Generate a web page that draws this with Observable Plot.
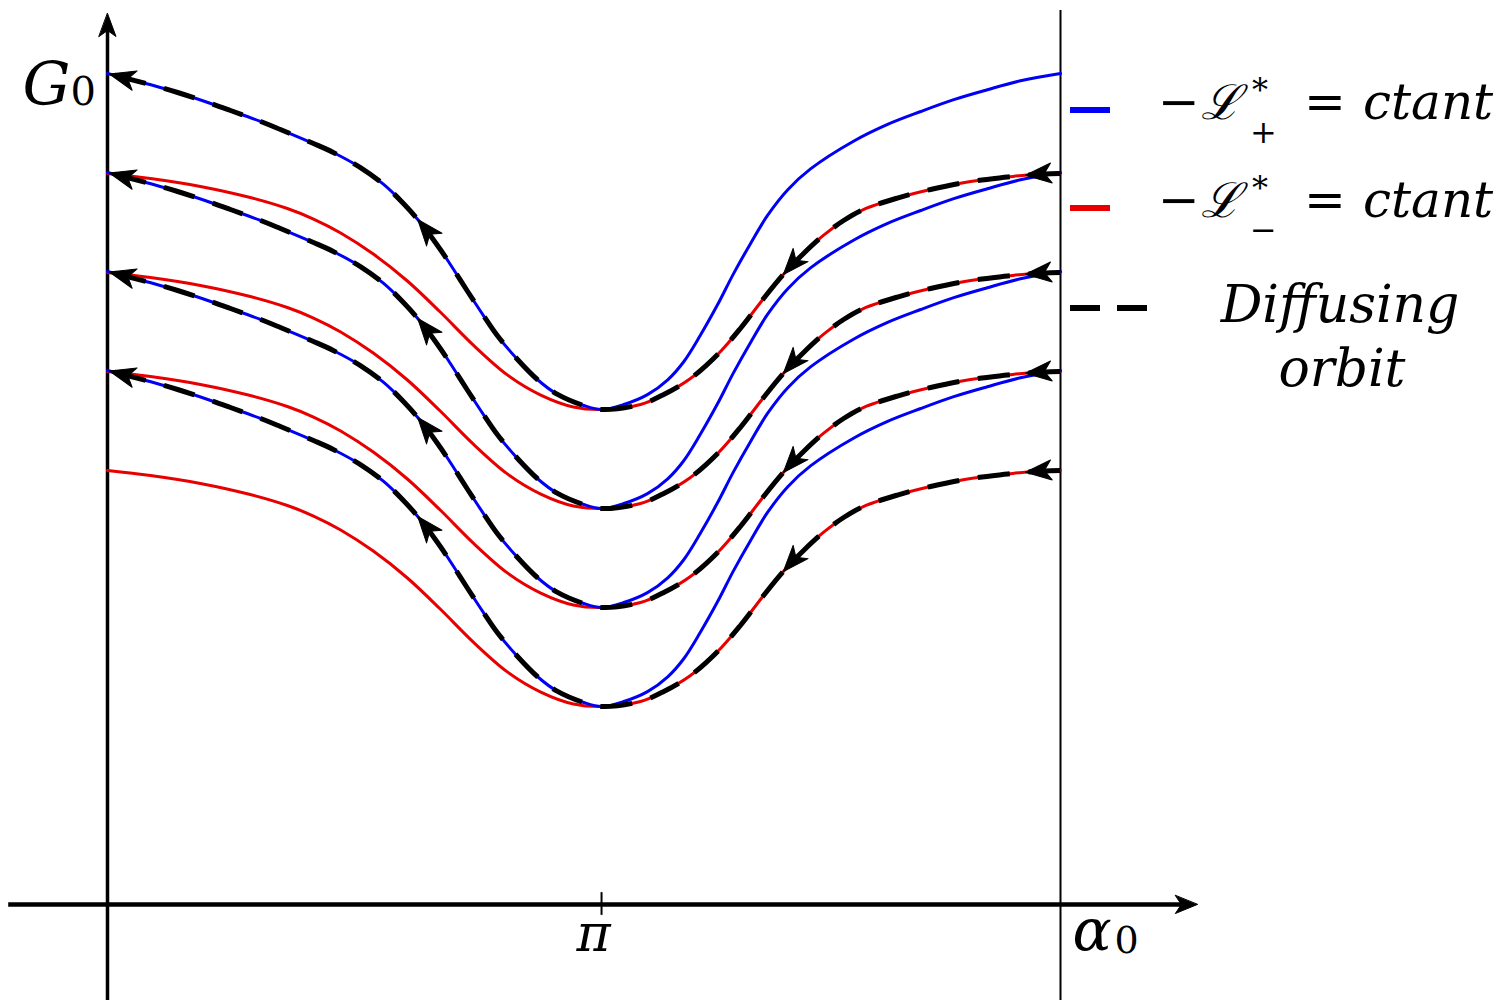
<!DOCTYPE html>
<html>
<head>
<meta charset="utf-8">
<script src="https://cdn.jsdelivr.net/npm/d3@7"></script>
<script src="https://cdn.jsdelivr.net/npm/@observablehq/plot@0.6"></script>
<style>
  body { margin: 0; background: #fff; }
  #wrap { position: relative; width: 1510px; height: 1000px; }
  #legend { position: absolute; left: 1060px; top: 60px; }
</style>
</head>
<body>
<div id="wrap"></div>
<script>
const PI = Math.PI;

// Level-curve profile of  -L*_+ = ctant  (blue): abscissa in units of π, rise above the valley floor (G0 units)
const blueAlpha = [0, 0.093, 0.142, 0.209, 0.249, 0.310, 0.350, 0.417, 0.457, 0.512, 0.559, 0.599, 0.628, 0.668, 0.694, 0.729, 0.761, 0.789, 0.830, 0.870, 0.911, 0.964, 1.000,
                   1.045, 1.093, 1.134, 1.166, 1.200, 1.235, 1.267, 1.302, 1.336, 1.377, 1.423, 1.510, 1.579, 1.646, 1.713, 1.781, 1.848, 1.929];
const blueRise  = [3.394, 3.273, 3.202, 3.091, 3.020, 2.909, 2.828, 2.687, 2.596, 2.444, 2.273, 2.081, 1.919, 1.657, 1.465, 1.192, 0.949, 0.747, 0.505, 0.303, 0.152, 0.040, 0,
                   0.050, 0.150, 0.300, 0.480, 0.750, 1.060, 1.370, 1.680, 1.960, 2.220, 2.430, 2.710, 2.880, 3.010, 3.130, 3.230, 3.320, 3.394];

// Level-curve profile of  -L*_- = ctant  (red)
const redAlpha = [0, 0.087, 0.188, 0.289, 0.364, 0.417, 0.472, 0.538, 0.607, 0.674, 0.741, 0.810, 0.877, 0.943, 1.000,
                  1.079, 1.126, 1.180, 1.235, 1.281, 1.328, 1.368, 1.409, 1.449, 1.490, 1.530, 1.599, 1.666, 1.747, 1.822, 1.862, 1.929];
const redRise  = [2.384, 2.333, 2.253, 2.141, 2.030, 1.924, 1.783, 1.570, 1.298, 0.982, 0.648, 0.347, 0.146, 0.026, 0,
                  0.051, 0.152, 0.313, 0.556, 0.818, 1.121, 1.364, 1.576, 1.758, 1.909, 2.020, 2.136, 2.222, 2.303, 2.348, 2.369, 2.384];

// Valley floors (G0 at α0 = π) of the plotted level curves
const valleyLevels = [5, 4, 3, 2];

// Right boundary line of the strip (units of π)
const rightEdge = 1.929;

// Axis extents: α0 axis (units of π), G0 axis
const xAxisSpan = [-0.2, 2.206];
const yAxisSpan = [-1, 9];
const yTop = 9;

// Tick on the α0 axis
const tickValues = [1];
const tickLabels = ["π"];

// Where arrowheads sit along the diffusing orbit (units of π)
const arrowOnBlue = [0.004, 0.628];
const arrowOnRed = [1.858, 1.368];

// ---------------------------------------------------------------
const W = 1510, H = 1000;
const mL = 107, mR = 450, mT = 13, mB = 96;
const kx = (W - mL - mR) / rightEdge; // px per unit of α/π
const ky = (H - mT - mB) / yTop;      // px per unit of G0

function interp(xs, ys, a) {
  if (a <= xs[0]) return ys[0];
  for (let i = 1; i < xs.length; i++) {
    if (a <= xs[i]) {
      const t = (a - xs[i - 1]) / (xs[i] - xs[i - 1]);
      return ys[i - 1] + t * (ys[i] - ys[i - 1]);
    }
  }
  return ys[ys.length - 1];
}
function slope(xs, ys, a) {
  const h = 0.012;
  const a0 = Math.max(xs[0], a - h), a1 = Math.min(xs[xs.length - 1], a + h);
  return (interp(xs, ys, a1) - interp(xs, ys, a0)) / (a1 - a0);
}
// rotation (deg, clockwise from up) when travelling towards decreasing α
function leftwardRotate(xs, ys, a) {
  const s = slope(xs, ys, a);
  return Math.atan2(-kx, -ky * s) * 180 / Math.PI;
}

const blueData = valleyLevels.flatMap(L => blueAlpha.map((a, i) => ({level: L, x: a * PI, y: L + blueRise[i]})));
const redData = valleyLevels.flatMap(L => redAlpha.map((a, i) => ({level: L, x: a * PI, y: L + redRise[i]})));

// Diffusing orbit: come in along red from the right edge down to π, then leave along blue to α0 = 0
const orbitData = valleyLevels.flatMap(L => {
  const pts = [];
  for (let i = redAlpha.length - 1; i >= 0; i--) {
    if (redAlpha[i] >= 1) pts.push({level: L, x: redAlpha[i] * PI, y: L + redRise[i]});
  }
  for (let i = blueAlpha.length - 1; i >= 0; i--) {
    if (blueAlpha[i] < 1) pts.push({level: L, x: blueAlpha[i] * PI, y: L + blueRise[i]});
  }
  return pts;
});

const arrowData = valleyLevels.flatMap(L => [
  ...arrowOnBlue.map(a => ({x: a * PI, y: L + interp(blueAlpha, blueRise, a), r: leftwardRotate(blueAlpha, blueRise, a)})),
  ...arrowOnRed.map(a => ({x: a * PI, y: L + interp(redAlpha, redRise, a), r: leftwardRotate(redAlpha, redRise, a)}))
]);

function stealth(half, notch) {
  return {
    draw(ctx, l) {
      ctx.moveTo(0, -l);
      ctx.lineTo(half, 0);
      ctx.lineTo(0, -notch);
      ctx.lineTo(-half, 0);
      ctx.closePath();
    }
  };
}

const BLUE = "#0000f5", RED = "#e80000";
const serif = "DejaVu Serif, serif";

const plot = Plot.plot({
  width: W, height: H,
  marginLeft: mL, marginRight: mR, marginTop: mT, marginBottom: mB,
  x: {domain: [0, rightEdge * PI], axis: null},
  y: {domain: [0, yTop], axis: null},
  style: {background: "#fff", overflow: "visible"},
  marks: [
    // right boundary of the strip
    Plot.ruleX([rightEdge * PI], {y1: yAxisSpan[0], y2: yTop + 0.03, stroke: "black", strokeWidth: 2}),
    // G0 axis
    Plot.ruleX([0], {y1: yAxisSpan[0], y2: yAxisSpan[1] - 0.15, stroke: "black", strokeWidth: 3.5}),
    Plot.vector([{x: 0, y: yAxisSpan[1]}], {x: "x", y: "y", rotate: 0, length: 23, anchor: "end",
      shape: stealth(8.5, 6), fill: "black", stroke: "black", strokeWidth: 1}),
    // α0 axis
    Plot.ruleY([0], {x1: xAxisSpan[0] * PI, x2: (xAxisSpan[1] - 0.03) * PI, stroke: "black", strokeWidth: 4.5}),
    Plot.vector([{x: xAxisSpan[1] * PI, y: 0}], {x: "x", y: "y", rotate: 90, length: 22, anchor: "end",
      shape: stealth(9, 6), fill: "black", stroke: "black", strokeWidth: 1}),
    // π tick and label
    Plot.ruleX(tickValues.map(v => v * PI), {y1: -0.11, y2: 0.12, stroke: "black", strokeWidth: 2}),
    Plot.text(tickValues.map((v, i) => ({x: v * PI, t: tickLabels[i]})), {x: "x", y: () => 0, text: "t",
      dy: 46, dx: -8, lineAnchor: "bottom", fontSize: 52, fontStyle: "italic", fontFamily: serif, fill: "black"}),
    // α0 label
    Plot.text([{x: rightEdge * PI}], {x: "x", y: () => 0, text: () => "α", textAnchor: "start",
      dx: 12, dy: 45, lineAnchor: "bottom", fontSize: 58, fontStyle: "italic", fontFamily: serif, fill: "black"}),
    Plot.text([{x: rightEdge * PI}], {x: "x", y: () => 0, text: () => "0", textAnchor: "start",
      dx: 54, dy: 48, lineAnchor: "bottom", fontSize: 38, fontFamily: serif, fill: "black"}),
    // G0 label
    Plot.text([{x: 0}], {x: "x", y: () => yTop, text: () => "G", textAnchor: "end",
      dx: -37, dy: 91, lineAnchor: "bottom", fontSize: 60, fontStyle: "italic", fontFamily: serif, fill: "black"}),
    Plot.text([{x: 0}], {x: "x", y: () => yTop, text: () => "0", textAnchor: "start",
      dx: -37, dy: 91, lineAnchor: "bottom", fontSize: 40, fontFamily: serif, fill: "black"}),
    // level curves
    Plot.line(redData, {x: "x", y: "y", z: "level", stroke: RED, strokeWidth: 3, curve: "catmull-rom"}),
    Plot.line(blueData, {x: "x", y: "y", z: "level", stroke: BLUE, strokeWidth: 3, curve: "catmull-rom"}),
    // diffusing orbit
    Plot.line(orbitData, {x: "x", y: "y", z: "level", stroke: "black", strokeWidth: 5,
      strokeDasharray: "32,19", strokeLinecap: "butt", curve: "catmull-rom"}),
    Plot.vector(arrowData, {x: "x", y: "y", rotate: "r", length: 26, anchor: "end",
      shape: stealth(10, 7), fill: "black", stroke: "black", strokeWidth: 1})
  ]
});

const wrap = document.getElementById("wrap");
wrap.appendChild(plot);

// ---- legend (overlay at the right) ----
const legendItems = [
  {color: BLUE, sub: "+"},
  {color: RED, sub: "−"}
];
const leg = d3.create("svg").attr("id", "legend").attr("width", 450).attr("height", 350)
  .attr("font-family", serif).attr("fill", "black");
legendItems.forEach((d, i) => {
  const cy = 50 + i * 98;
  leg.append("rect").attr("x", 10).attr("y", cy - 3).attr("width", 40).attr("height", 6).attr("fill", d.color);
  const base = cy + 9;
  leg.append("text").attr("x", 98).attr("y", base).attr("font-size", 50).text("−");
  leg.append("text").attr("x", 141).attr("y", base).attr("font-size", 48).attr("font-style", "italic").text("ℒ");
  leg.append("text").attr("x", 192).attr("y", base - 18).attr("font-size", 32).text("*");
  leg.append("text").attr("x", 190).attr("y", base + 24).attr("font-size", 32).text(d.sub);
  leg.append("text").attr("x", 244).attr("y", base).attr("font-size", 50).text("=");
  leg.append("text").attr("x", 303).attr("y", base).attr("font-size", 50).attr("font-style", "italic").text("ctant");
});
leg.append("line").attr("x1", 10).attr("x2", 89).attr("y1", 248).attr("y2", 248)
  .attr("stroke", "black").attr("stroke-width", 6).attr("stroke-dasharray", "30,17");
leg.append("text").attr("x", 280).attr("y", 262).attr("text-anchor", "middle").attr("font-size", 52)
  .attr("font-style", "italic").text("Diffusing");
leg.append("text").attr("x", 282).attr("y", 326).attr("text-anchor", "middle").attr("font-size", 52)
  .attr("font-style", "italic").text("orbit");
wrap.appendChild(leg.node());
</script>
</body>
</html>
